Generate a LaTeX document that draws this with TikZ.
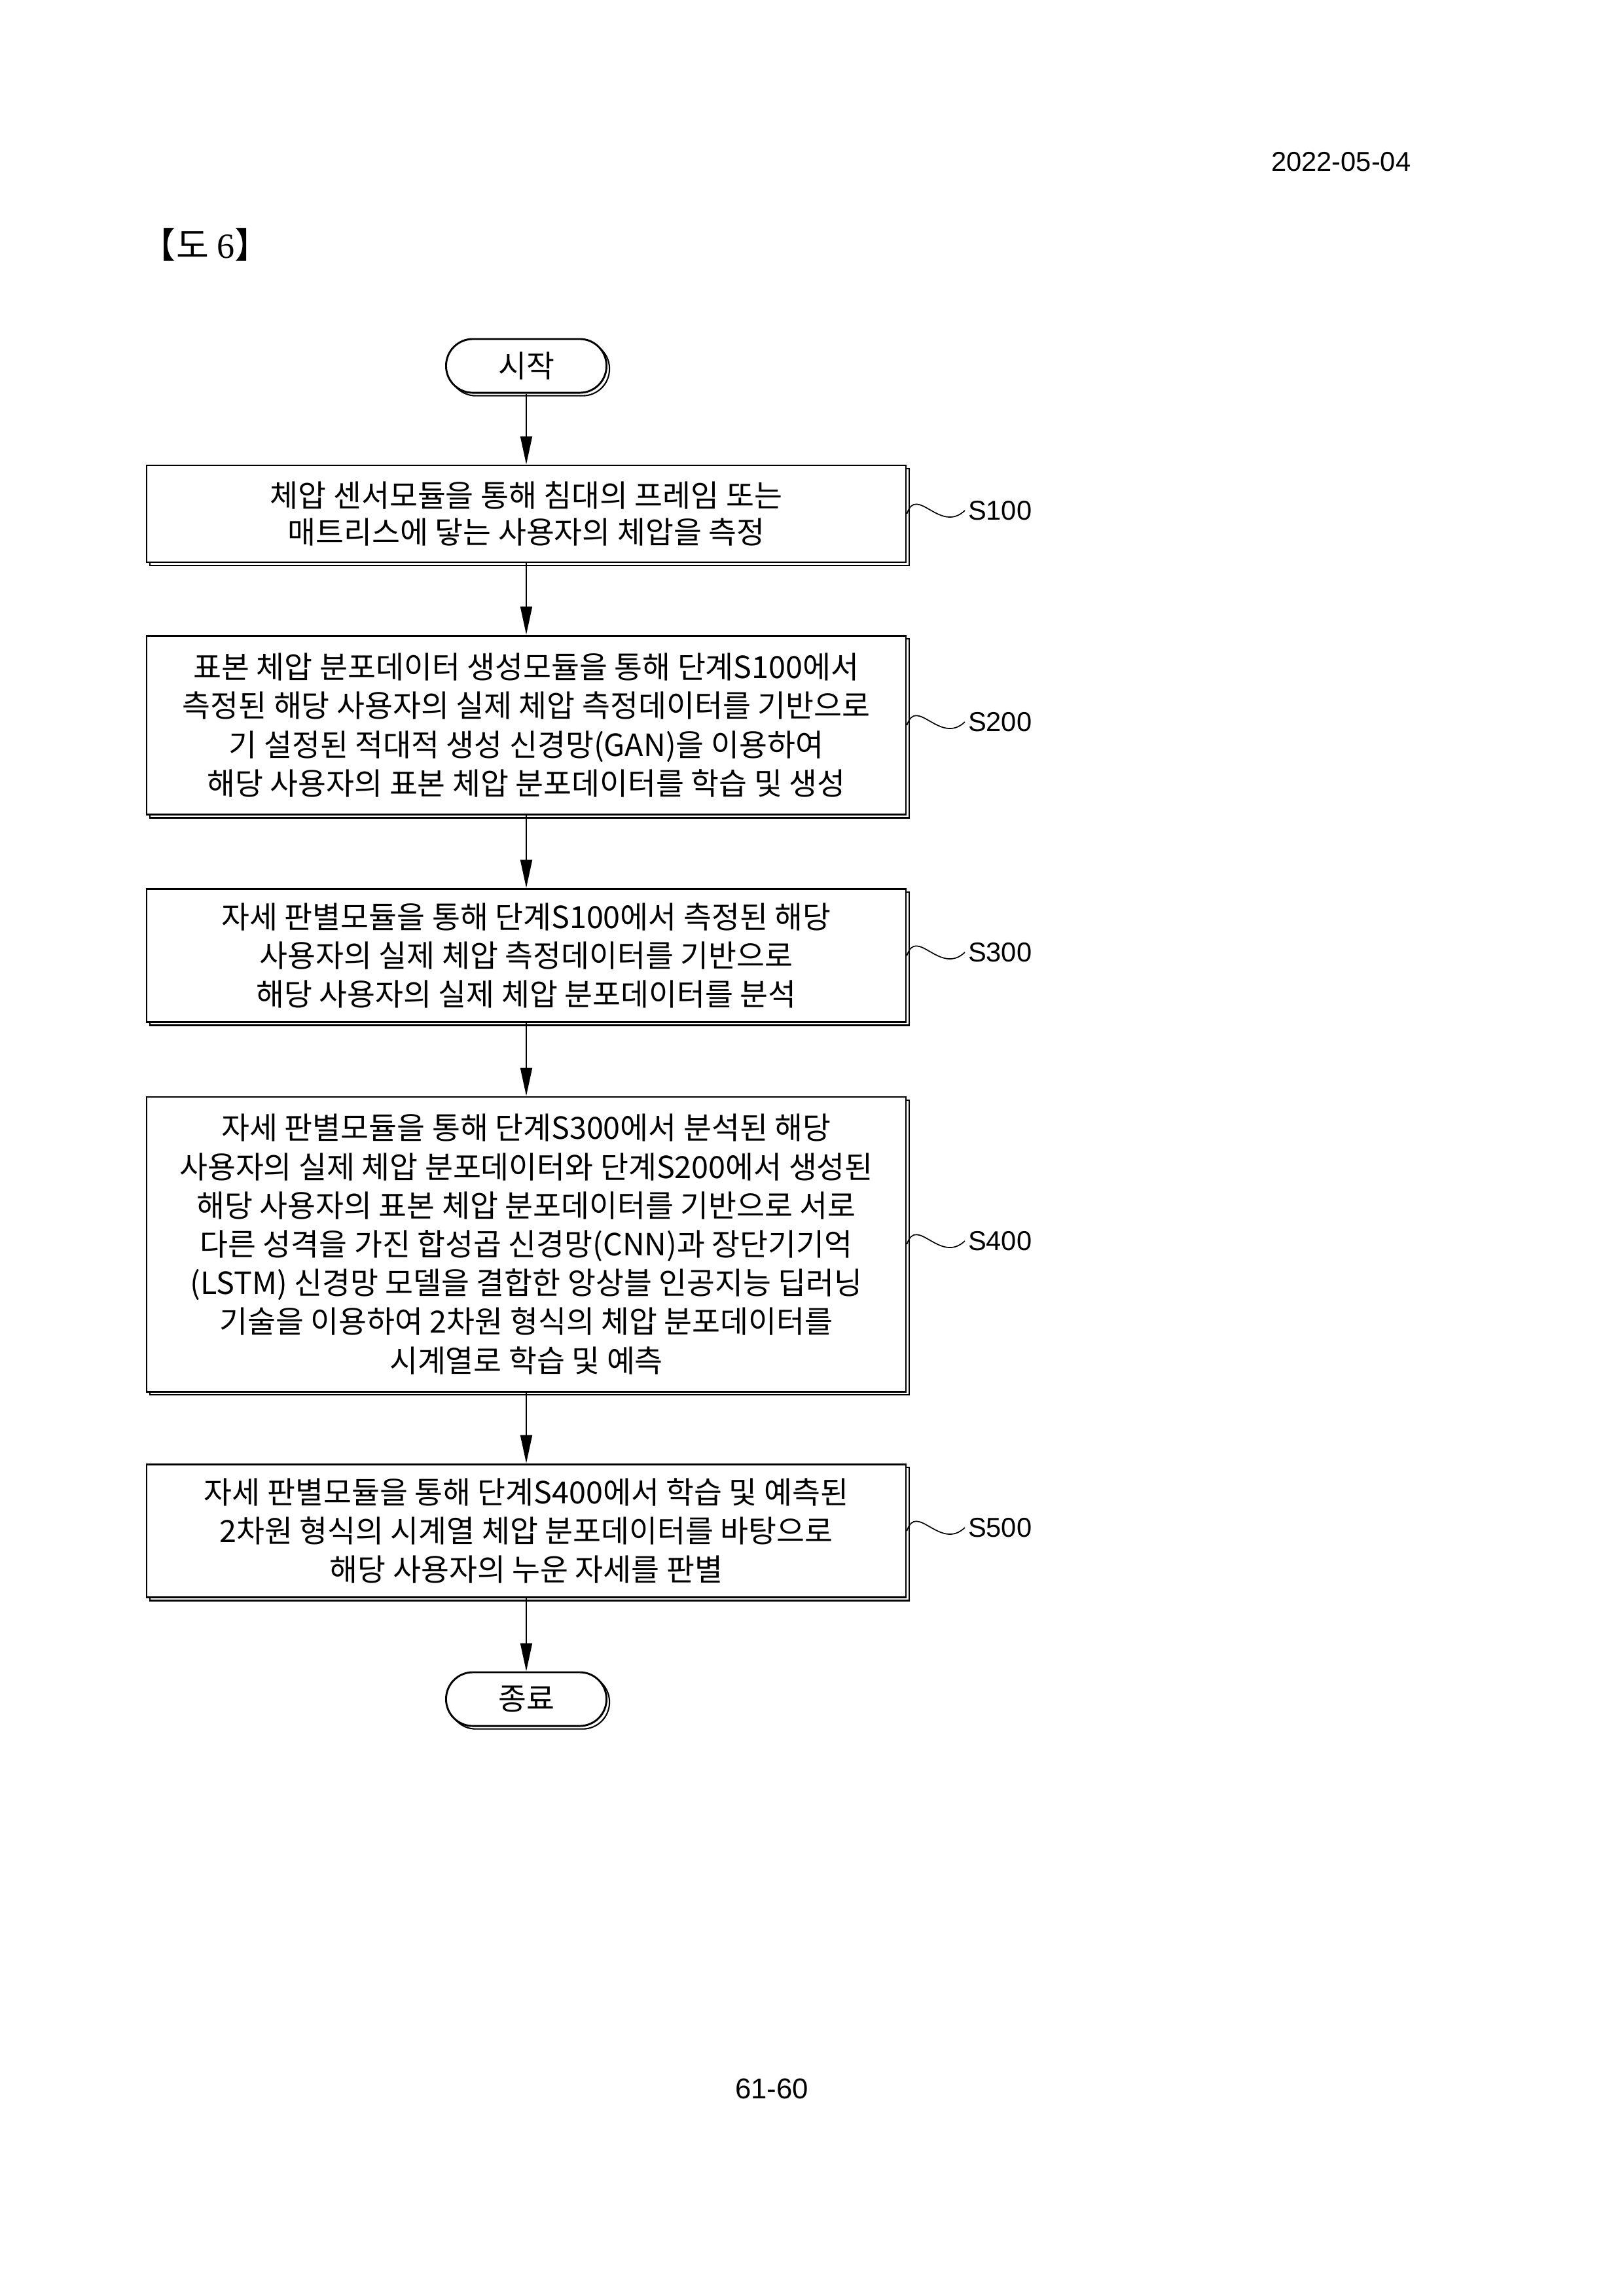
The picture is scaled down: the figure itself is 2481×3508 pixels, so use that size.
\documentclass[tikz,border=0pt]{standalone}
\usepackage{fontspec}
\setmainfont{Liberation Sans}
\newfontfamily\kr[WordSpace=2.2]{Noto Sans CJK KR}
\newfontfamily\krt{Noto Sans CJK KR}
\newfontfamily\serifLat{Liberation Serif}
\usetikzlibrary{arrows.meta,shadows}
\begin{document}
\begin{tikzpicture}[x=0.239934pt,y=-0.239934pt,
  boxshadow/.style={general shadow={shadow xshift=1.1pt,shadow yshift=-1.1pt,draw=black,fill=white,line width=0.5pt}},
  stepbox/.style={draw,line width=0.7pt,fill=white,inner sep=0pt,align=center,
    font=\kr\fontsize{11.2pt}{14.2pt}\selectfont,minimum width=278.3pt,boxshadow},
  term/.style={draw,line width=0.7pt,fill=white,inner sep=0pt,rounded corners=9.8pt,
    minimum width=58.8pt,minimum height=19.7pt,font=\kr\fontsize{11.2pt}{12pt}\selectfont,boxshadow},
  arr/.style={line width=0.5pt,-{Triangle[length=10.3pt,width=4.3pt]}},
  lbl/.style={inner sep=1pt,font=\fontsize{10pt}{12pt}\selectfont},
  tilde/.style={line width=0.4pt}
]
\fill[white] (0,0) rectangle (2481,3508);
\useasboundingbox (0,0) rectangle (2481,3508);

\node[anchor=east,font=\fontsize{10pt}{12pt}\selectfont] (date) at (2170,247) {2022-05-04};
\node[anchor=west,inner sep=0pt,font=\fontsize{13pt}{15pt}\selectfont] (title) at (214,374) {\krt 【도 \serifLat 6\krt 】};
\node[font=\fontsize{10.5pt}{12pt}\selectfont] (page) at (1179,3191) {61-60};

\node[term] (start) at (804,559) {시작};
\node[stepbox,minimum height=35.5pt,font=\kr\fontsize{11.2pt}{13.4pt}\selectfont] (b1) at (804,785)
  {체압 센서모듈을 통해 침대의 프레임 또는\\매트리스에 닿는 사용자의 체압을 측정};
\node[stepbox,minimum height=65.7pt] (b2) at (804,1108)
  {표본 체압 분포데이터 생성모듈을 통해 단계S100에서\\측정된 해당 사용자의 실제 체압 측정데이터를 기반으로\\기 설정된 적대적 생성 신경망(GAN)을 이용하여\\해당 사용자의 표본 체압 분포데이터를 학습 및 생성};
\node[stepbox,minimum height=48.9pt] (b3) at (804,1460)
  {자세 판별모듈을 통해 단계S100에서 측정된 해당\\사용자의 실제 체압 측정데이터를 기반으로\\해당 사용자의 실제 체압 분포데이터를 분석};
\node[stepbox,minimum height=108pt] (b4) at (804,1901)
  {자세 판별모듈을 통해 단계S300에서 분석된 해당\\사용자의 실제 체압 분포데이터와 단계S200에서 생성된\\해당 사용자의 표본 체압 분포데이터를 기반으로 서로\\다른 성격을 가진 합성곱 신경망(CNN)과 장단기기억\\(LSTM) 신경망 모델을 결합한 앙상블 인공지능 딥러닝\\기술을 이용하여 2차원 형식의 체압 분포데이터를\\시계열로 학습 및 예측};
\node[stepbox,minimum height=48.9pt] (b5) at (804,2339)
  {자세 판별모듈을 통해 단계S400에서 학습 및 예측된\\2차원 형식의 시계열 체압 분포데이터를 바탕으로\\해당 사용자의 누운 자세를 판별};
\node[term] (end) at (804,2596) {종료};

\draw[arr] (start) -- (b1);
\draw[arr] (b1) -- (b2);
\draw[arr] (b2) -- (b3);
\draw[arr] (b3) -- (b4);
\draw[arr] (b4) -- (b5);
\draw[arr] (b5) -- (end);

\node[lbl,anchor=west] (l1) at (1474,780) {S100};
\node[lbl,anchor=west] (l2) at (1474,1103) {S200};
\node[lbl,anchor=west] (l3) at (1474,1455) {S300};
\node[lbl,anchor=west] (l4) at (1474,1896) {S400};
\node[lbl,anchor=west] (l5) at (1474,2334) {S500};

\draw[tilde] (b1.east) .. controls +(15,-45) and +(-38,36) .. (l1.west);
\draw[tilde] (b2.east) .. controls +(15,-45) and +(-38,36) .. (l2.west);
\draw[tilde] (b3.east) .. controls +(15,-45) and +(-38,36) .. (l3.west);
\draw[tilde] (b4.east) .. controls +(15,-45) and +(-38,36) .. (l4.west);
\draw[tilde] (b5.east) .. controls +(15,-45) and +(-38,36) .. (l5.west);
\end{tikzpicture}
\end{document}
